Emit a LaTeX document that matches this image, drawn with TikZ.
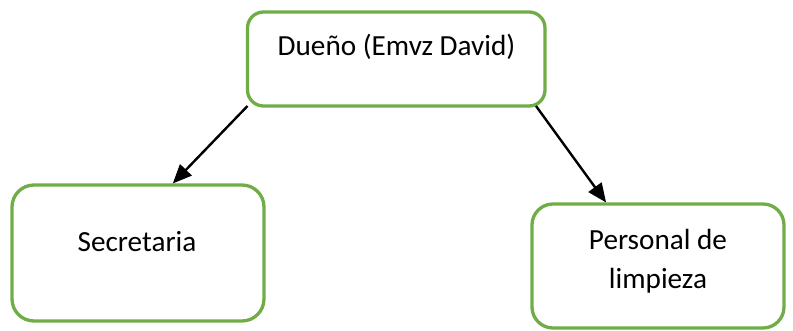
\documentclass[tikz,border=0pt]{standalone}
\usepackage{fontspec}
\setmainfont{Carlito}
\usetikzlibrary{arrows.meta,calc}
\definecolor{boxgreen}{HTML}{70AD47}
\tikzset{
  orgbox/.style={draw=boxgreen, line width=3.3pt, fill=white, inner sep=0pt, outer sep=0pt},
  orgtext/.style={anchor=base, inner sep=0pt, font=\fontsize{29.2}{39}\selectfont, align=center},
  orgarrow/.style={draw=black, line width=2.4pt, -{Triangle[length=19pt,width=16pt]}}
}
\begin{document}
\begin{tikzpicture}[x=1pt,y=-1pt]
\useasboundingbox (0,0) rectangle (793,331);
\node[orgbox, rounded corners=16pt, minimum width=297.5pt, minimum height=94pt] (top) at (396.25,59) {};
\node[orgbox, rounded corners=22pt, minimum width=252pt, minimum height=136pt] (sec) at (138,253) {};
\node[orgbox, rounded corners=21pt, minimum width=252pt, minimum height=124pt] (pers) at (658,266) {};
\node[orgtext] (toptext) at (396.5,56) {Dueño (Emvz David)};
\node[orgtext] (sectext) at (137,252) {Secretaria};
\node[orgtext] (perstext1) at (658,250) {Personal de};
\node[orgtext] (perstext2) at (658,289) {limpieza};
\coordinate (a1start) at ($(top.south west)+(0,0)$);
\coordinate (a1end) at ($(sec.north west)!0.638!(sec.north east)$);
\coordinate (a2start) at ($(top.south east)+(-9,0)$);
\coordinate (a2end) at ($(pers.north west)!0.294!(pers.north east)$);
\draw[orgarrow] (a1start) -- ($(a1end)+(0,-1.5)$);
\draw[orgarrow] (a2start) -- ($(a2end)+(0,-1.5)$);
\end{tikzpicture}
\end{document}
